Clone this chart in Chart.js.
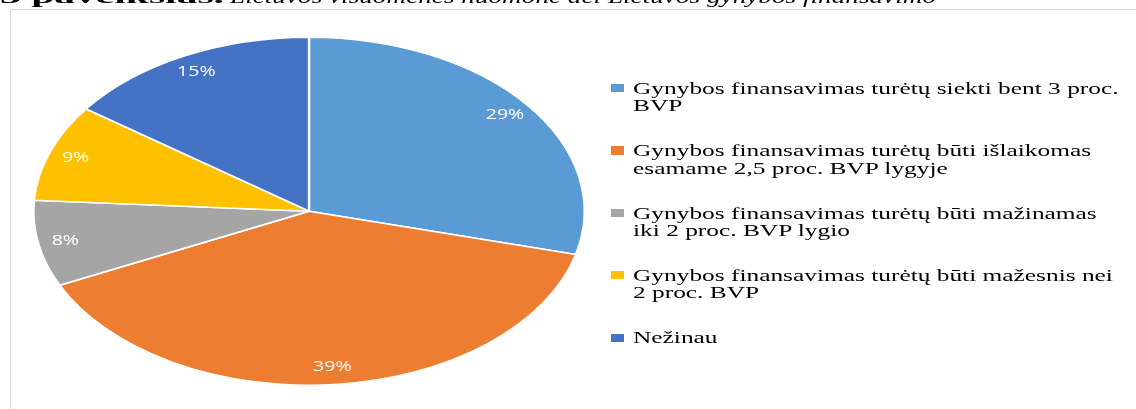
<!DOCTYPE html>
<html>
<head>
<meta charset="utf-8">
<script src="https://cdn.jsdelivr.net/npm/chart.js@4/dist/chart.umd.min.js"></script>
<style>
  html, body { margin: 0; padding: 0; background: #fff; width: 1136px; height: 409px; overflow: hidden; }
  #wrap { position: relative; width: 1136px; height: 409px; }
  #frame { position: absolute; left: 10px; top: 9px; width: 1140px; height: 420px; border: 1px solid #d9d9d9; box-sizing: border-box; }
  #chart { position: absolute; left: 0; top: 0; }
  #title { position: absolute; left: 0; top: -12px; height: 18px; white-space: nowrap; font-family: "Liberation Serif", "Times New Roman", serif; font-size: 18px; line-height: 18px; color: #000; }
  #title span { display: inline-block; transform-origin: left top; position: absolute; top: 0; }
  #title .b { font-weight: bold; font-size: 19px; }
  #title .i { font-style: italic; font-size: 19px; }
  .item { position: absolute; left: 611px; }
  .sq { position: absolute; left: 0; width: 13px; height: 8.3px; }
  .tx { position: absolute; left: 22px; top: 0; white-space: nowrap; font-family: "Liberation Serif", "Times New Roman", serif; font-size: 17.5px; line-height: 17.4px; color: #000; transform: scaleX(1.45); transform-origin: left top; }
</style>
</head>
<body>
<div id="wrap">
  <div id="frame"></div>
  <canvas id="chart" width="1136" height="409"></canvas>
  <div id="title"><span class="b" id="tb"></span><span class="i" id="ti"></span></div>
  <div id="legend"></div>
</div>
<script>
// ---- data ----
const titleBold = '3 paveikslas.';
const titleText = 'Lietuvos visuomenės nuomonė dėl Lietuvos gynybos finansavimo';
const categories = [
  ['Gynybos finansavimas turėtų siekti bent 3 proc.', 'BVP'],
  ['Gynybos finansavimas turėtų būti išlaikomas', 'esamame 2,5 proc. BVP lygyje'],
  ['Gynybos finansavimas turėtų būti mažinamas', 'iki 2 proc. BVP lygio'],
  ['Gynybos finansavimas turėtų būti mažesnis nei', '2 proc. BVP'],
  ['Nežinau']
];
const shares = [29, 39, 8, 9, 15];
const colors = ['#5B9BD5', '#ED7D31', '#A5A5A5', '#FFC000', '#4472C4'];

// ---- look ----
const SX = 1.584;          // horizontal stretch of the pie (ellipse)
const LABEL_SX = 1.4;      // horizontal stretch of data labels
const LABEL_R = 0.9;       // label radius fraction

const ellipsePlugin = {
  id: 'ellipse',
  beforeDatasetsDraw(chart) {
    const a = chart.getDatasetMeta(0).data[0];
    const ctx = chart.ctx;
    ctx.save();
    ctx.translate(a.x, a.y);
    ctx.scale(SX, 1);
    ctx.translate(-a.x, -a.y);
  },
  afterDatasetsDraw(chart) {
    const ctx = chart.ctx;
    ctx.restore();
    const meta = chart.getDatasetMeta(0);
    const ds = chart.data.datasets[0].data;
    const total = ds.reduce((s, v) => s + v, 0);
    meta.data.forEach((arc, i) => {
      const p = arc.getProps(['x', 'y', 'startAngle', 'endAngle', 'outerRadius'], true);
      const mid = (p.startAngle + p.endAngle) / 2;
      const r = p.outerRadius * LABEL_R;
      const x = p.x + Math.cos(mid) * r * SX;
      const y = p.y + Math.sin(mid) * r;
      ctx.save();
      ctx.translate(x, y);
      ctx.scale(LABEL_SX, 1);
      ctx.fillStyle = '#ffffff';
      ctx.font = '14px "Open Sans", "Noto Sans", sans-serif';
      ctx.textAlign = 'center';
      ctx.textBaseline = 'middle';
      ctx.fillText(Math.round(ds[i] / total * 100) + '%', 0, 0);
      ctx.restore();
    });
  }
};

new Chart(document.getElementById('chart'), {
  type: 'pie',
  data: {
    labels: categories,
    datasets: [{
      data: shares,
      backgroundColor: colors,
      borderColor: '#ffffff',
      borderWidth: 1.5
    }]
  },
  options: {
    responsive: false,
    devicePixelRatio: 1,
    animation: false,
    events: [],
    radius: 174,
    layout: { padding: { left: 0, right: 518, top: 20, bottom: 6.6 } },
    plugins: { legend: { display: false }, tooltip: { enabled: false } }
  },
  plugins: [ellipsePlugin]
});

// ---- legend (HTML text) ----
const legend = document.getElementById('legend');
categories.forEach((lines, i) => {
  const item = document.createElement('div');
  item.className = 'item';
  item.style.top = (79.7 + i * 62.4) + 'px';
  const sq = document.createElement('div');
  sq.className = 'sq';
  sq.style.top = '4.3px';
  sq.style.background = colors[i];
  const tx = document.createElement('div');
  tx.className = 'tx';
  tx.innerHTML = lines.map(l => l.replace(/&/g, '&amp;').replace(/</g, '&lt;')).join('<br>');
  item.appendChild(sq);
  item.appendChild(tx);
  legend.appendChild(item);
});

// ---- title (cut off at top) ----
const tb = document.getElementById('tb');
const ti = document.getElementById('ti');
tb.textContent = titleBold;
ti.textContent = titleText;
function fit(el, left, right) {
  const w = el.getBoundingClientRect().width;
  el.style.left = left + 'px';
  el.style.transform = 'scaleX(' + ((right - left) / w) + ')';
}
fit(tb, 0, 224);
fit(ti, 230, 936);
</script>
</body>
</html>
